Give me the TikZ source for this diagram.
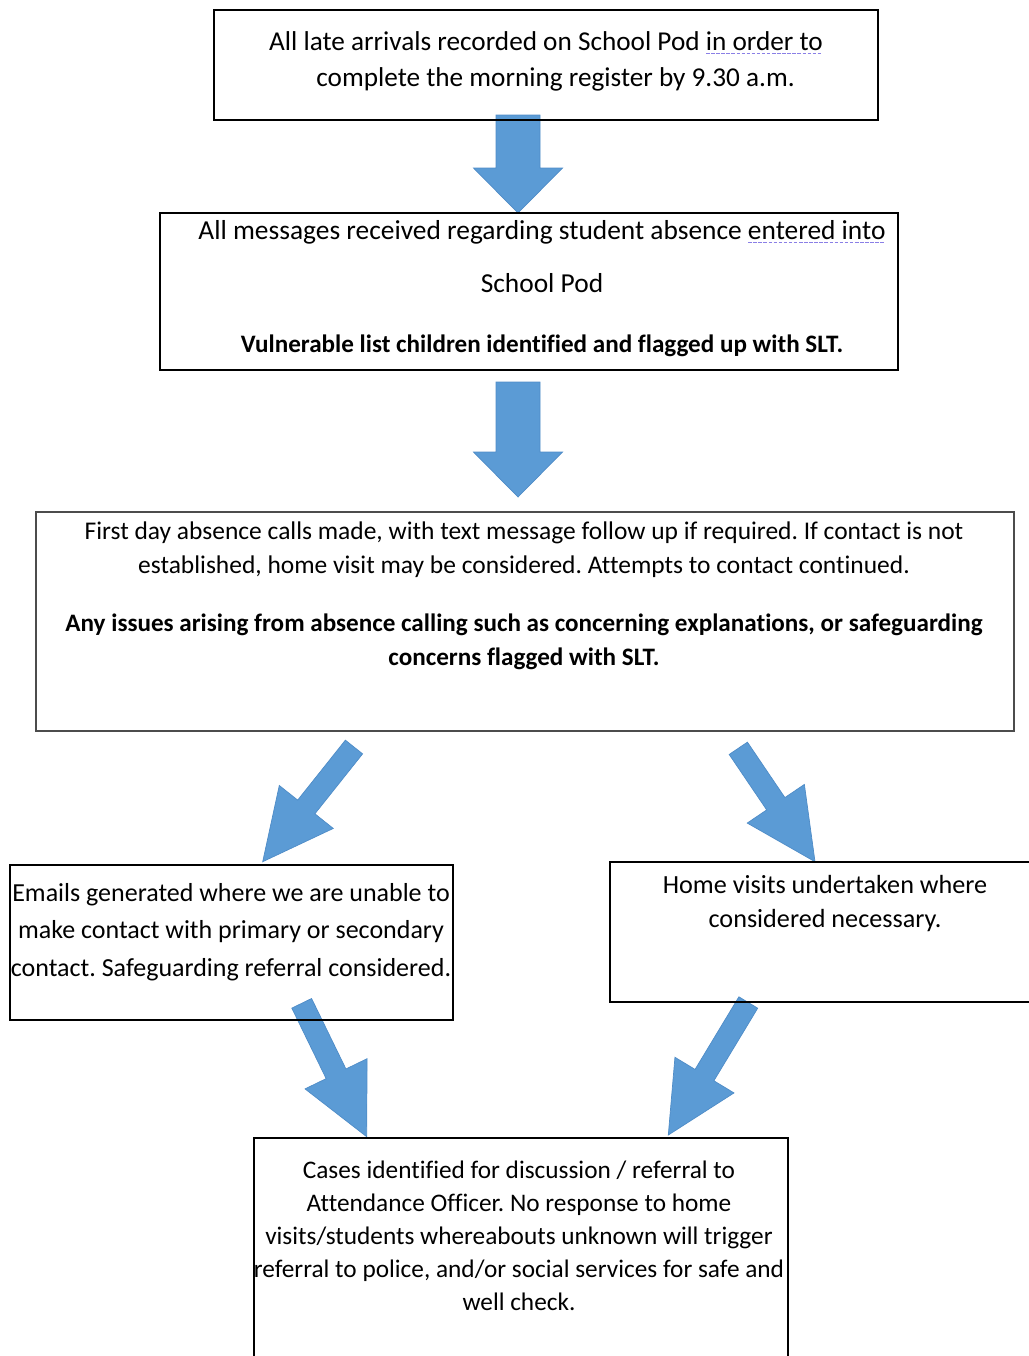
\documentclass[tikz,border=0pt]{standalone}
\usepackage{fontspec}
\setmainfont[Ligatures=NoCommon]{Carlito}
\usetikzlibrary{positioning,calc,backgrounds}
\definecolor{ArrowBlue}{HTML}{5B9BD5}
\definecolor{ArrowEdge}{HTML}{4F8CC7}
\definecolor{GrammarBlue}{HTML}{8A7FE6}
\frenchspacing

% font size / baseline skip
\newcommand{\fs}[2]{\fontsize{#1}{#2}\selectfont}
% dashed grammar-check underline
\newsavebox{\grammarbox}
\newcommand{\grammar}[1]{\sbox{\grammarbox}{#1}%
  \rlap{\raisebox{-0.3ex}{\textcolor{GrammarBlue}{\hbox to \wd\grammarbox{\xleaders\hbox{\rule{2pt}{0.7pt}\hspace{0.8pt}}\hfill}}}}%
  \usebox{\grammarbox}}
% block arrow: tail, tip, half shaft, half head, head length
\newcommand{\blockarrow}[5]{%
  \coordinate (ba-hb) at ($(#2)!#5!(#1)$);
  \filldraw[fill=ArrowBlue, draw=ArrowEdge, line width=0.4pt]
    ($(#1)!#3!90:(#2)$) -- ($(ba-hb)!#3!-90:(#1)$) -- ($(ba-hb)!#4!-90:(#1)$) -- (#2)
    -- ($(ba-hb)!#4!90:(#1)$) -- ($(ba-hb)!#3!90:(#1)$) -- ($(#1)!#3!-90:(#2)$) -- cycle;
}

\begin{document}
\begin{tikzpicture}[
    x=0.02cm, y=-0.02cm,
    box/.style={draw=black, line width=0.9pt, inner sep=0pt},
    txt/.style={align=center, inner sep=0pt, anchor=base}
  ]
  \useasboundingbox (0,0) rectangle (1028,1356);

  % boxes
  \node[box, minimum width=13.28cm, minimum height=2.2cm] (late) at (546,65) {};
  \node[box, minimum width=14.76cm, minimum height=3.14cm] (msgs) at (529,291.5) {};
  \node[box, draw=black!70, minimum width=19.56cm, minimum height=4.38cm] (calls) at (525,621.5) {};
  \node[box, minimum width=8.86cm, minimum height=3.1cm] (emails) at (231.5,942.5) {};
  \node[box, minimum width=8.7cm, minimum height=2.8cm] (visits) at (827.5,932) {};
  \node[box, minimum width=10.68cm, minimum height=5.2cm] (cases) at (521,1268) {};

  % texts (placed at the baseline of their last line)
  \node[txt, font=\fs{15.5}{20.4}] (late-t) at (546,86)
    {All late arrivals recorded on School Pod \grammar{in order to}\\
     \hspace*{0.7em}complete the morning register by 9.30 a.m.};
  \node[txt, font=\fs{15.6}{20}] (msgs-t) at (542,352.7)
    {All messages received regarding student absence \grammar{entered into}\\[10.4pt]
     School Pod\\[14pt]
     {\bfseries\fs{14.3}{20}Vulnerable list children identified and flagged up with SLT.}};
  \node[txt, font=\fs{14.5}{19.3}] (calls-t) at (524,665)
    {First day absence calls made, with text message follow up if required. If contact is not\\
     established, home visit may be considered. Attempts to contact continued.\\[13.6pt]
     {\bfseries\fs{14.3}{19.3}Any issues arising from absence calling such as concerning explanations, or safeguarding}\\
     {\bfseries\fs{14.3}{19.3}concerns flagged with SLT.}};
  \node[txt, font=\fs{14.8}{21.3}] (emails-t) at (231,976)
    {Emails generated where we are unable to\\
     make contact with primary or secondary\\
     contact. Safeguarding referral considered.};
  \node[txt, font=\fs{14.9}{19.3}] (visits-t) at (825,927)
    {Home visits undertaken where\\
     considered necessary.};
  \node[txt, font=\fs{14.4}{18.7}] (cases-t) at (519,1310)
    {Cases identified for discussion / referral to\\
     Attendance Officer. No response to home\\
     visits/students whereabouts unknown will trigger\\
     referral to police, and/or social services for safe and\\
     well check.};

  % arrow ends
  \coordinate (a1-tail) at (518,115);
  \coordinate (a1-tip) at (518,213);
  \coordinate (a2-tail) at (518,382);
  \coordinate (a2-tip) at (518,497);
  \coordinate (a3-tail) at (354,747);
  \coordinate (a3-tip) at (262.7,861.7);
  \coordinate (a4-tail) at (738.3,748.3);
  \coordinate (a4-tip) at (815,861.7);
  \coordinate (a5-tail) at (301.7,1003.3);
  \coordinate (a5-tip) at (366.7,1136.7);
  \coordinate (a6-tail) at (748.3,1002.5);
  \coordinate (a6-tip) at (668.3,1135);

  \begin{scope}[on background layer]
    \blockarrow{a1-tail}{a1-tip}{0.44cm}{0.89cm}{0.9cm}
    \blockarrow{a2-tail}{a2-tip}{0.44cm}{0.89cm}{0.9cm}
    \blockarrow{a3-tail}{a3-tip}{0.22cm}{0.69cm}{1.4cm}
    \blockarrow{a4-tail}{a4-tip}{0.22cm}{0.69cm}{1.4cm}
    \blockarrow{a5-tail}{a5-tip}{0.22cm}{0.69cm}{1.4cm}
    \blockarrow{a6-tail}{a6-tip}{0.22cm}{0.69cm}{1.4cm}
  \end{scope}
\end{tikzpicture}
\end{document}
